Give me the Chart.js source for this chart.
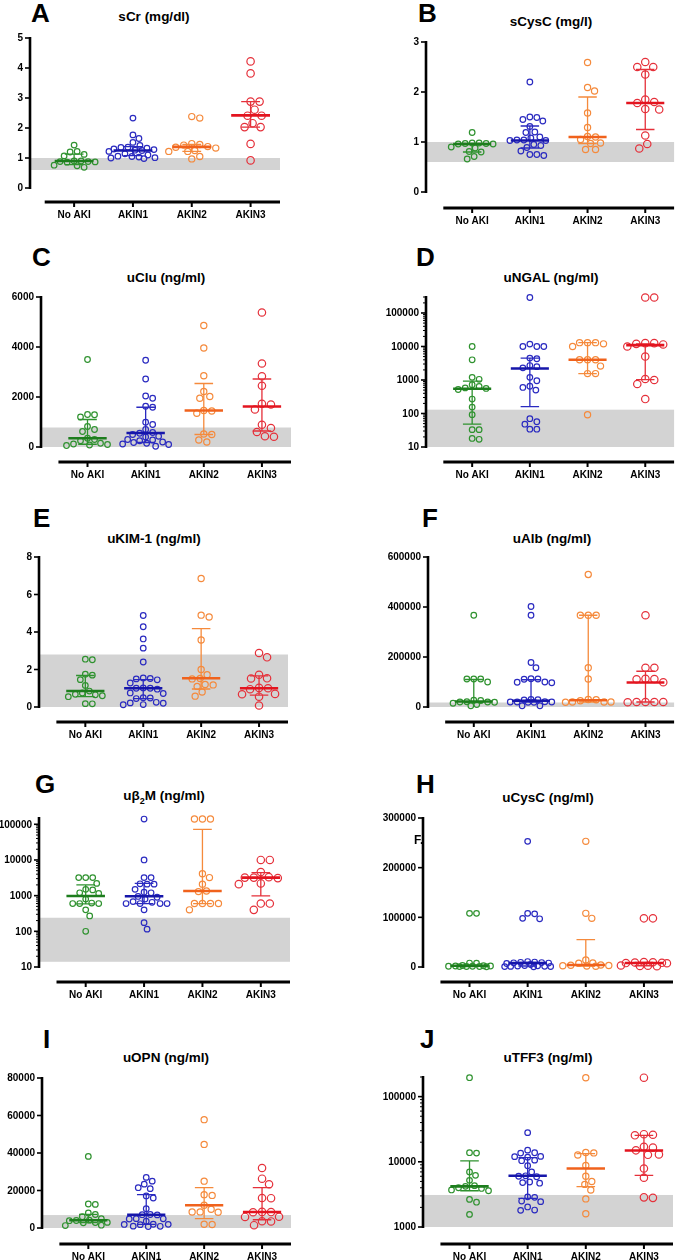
<!DOCTYPE html>
<html><head><meta charset="utf-8">
<script src="https://cdn.jsdelivr.net/npm/chart.js@4.4.1/dist/chart.umd.min.js"></script>
<style>
body{margin:0;background:#fff;width:679px;height:1260px;position:relative;overflow:hidden;font-family:"Liberation Sans",Arial,sans-serif}
.lt{position:absolute;font-weight:bold;font-size:26px;line-height:26px;color:#000}
.tt{position:absolute;font-weight:bold;font-size:13.5px;line-height:13.5px;white-space:nowrap;transform:translateX(-50%);color:#000}
.tt sub{font-size:9px;line-height:0}
canvas{position:absolute}
</style></head><body>
<script>
const groups=['No AKI','AKIN1','AKIN2','AKIN3'];
const groupColors=['#2f922f','#2a2ac0','#f58a3c','#e5303a'];
const medianColors=['#1d7d1d','#1616aa','#f0621c','#e3141f'];
const pointRadii=[2.8,2.8,3.1,3.7];

// A sCr
const sCr=[[1.43,1.22,1.2,1.07,1.12,0.9,0.88,0.88,0.87,0.86,0.9,0.76,0.74,0.69],
 [2.33,1.77,1.65,1.52,1.42,1.36,1.35,1.33,1.3,1.28,1.26,1.25,1.22,1.14,1.1,1.06,1.05,1.03,1.01,1.0,0.98],
 [2.38,2.33,1.48,1.45,1.43,1.38,1.36,1.33,1.25,1.22,1.22,1.05,0.97],
 [4.22,3.82,2.88,2.88,2.61,2.41,2.41,2.16,2.03,2.03,1.47,0.92]];
const sCrMed=[0.9,1.25,1.37,2.42], sCrQ1=[0.78,1.08,1.22,2.03], sCrQ3=[1.13,1.38,1.45,2.88];
const sCrTicks=[0,1,2,3,4,5], sCrBand=[0.6,1.0];
// B sCysC
const sCysC=[[1.19,0.98,0.98,0.97,0.97,0.96,0.96,0.9,0.88,0.81,0.8,0.71,0.66],
 [2.2,1.5,1.49,1.45,1.42,1.31,1.2,1.19,1.1,1.08,1.04,1.04,1.03,1.03,0.95,0.93,0.89,0.82,0.75,0.75,0.73],
 [2.59,2.09,2.02,1.58,1.29,1.11,1.1,1.05,0.98,0.97,0.85,0.85],
 [2.6,2.5,2.5,2.35,1.85,1.8,1.78,1.66,1.65,1.13,0.96,0.87]];
const sCysCMed=[0.96,1.03,1.1,1.78], sCysCQ1=[0.8,0.88,0.97,1.25], sCysCQ3=[0.97,1.32,1.9,2.45];
const sCysCTicks=[0,1,2,3], sCysCBand=[0.6,1.0];
// C uClu
const uClu=[[3500,1300,1290,1200,820,700,620,350,300,250,150,120,100,80,60],
 [3470,2720,2040,1950,1630,1590,990,900,700,580,550,500,430,400,300,280,250,200,180,150,120,100,30],
 [4860,3960,2850,2220,2020,1950,1460,1440,1350,520,500,280,200],
 [5380,3340,2830,2450,1730,1700,1500,890,760,600,430,410]];
const uCluMed=[350,560,1460,1620], uCluQ1=[110,180,500,640], uCluQ3=[1100,1590,2540,2720];
const uCluTicks=[0,2000,4000,6000], uCluBand=[0,780];
// D uNGAL
const uNGAL=[[10000,4000,1200,1050,720,640,580,560,520,270,155,92,33,33,18,17],
 [290000,11800,10000,10000,10000,4500,4300,2700,2500,2300,1200,950,650,600,500,70,57,48,34,34],
 [13000,13000,13000,12000,10000,4000,4000,4000,2600,1550,1550,92],
 [290000,290000,12600,12600,12000,11500,10000,5000,1070,1000,760,270]];
const uNGALMed=[550,2200,4000,11000], uNGALQ1=[48,160,1550,1020], uNGALQ3=[920,4500,13000,12000];
const uNGALTicks=[10,100,1000,10000,100000], uNGALBand=[10,130];
// E uKIM-1
const uKIM1=[[2.55,2.52,1.75,1.7,1.46,1.15,0.85,0.75,0.68,0.65,0.6,0.55,0.18,0.17],
 [4.88,4.28,3.63,3.14,2.4,1.55,1.52,1.5,1.45,1.28,1.02,1.0,1.0,0.95,0.75,0.72,0.5,0.48,0.45,0.25,0.22,0.2,0.13,0.12],
 [6.85,4.9,4.8,3.57,2.0,1.72,1.52,1.5,1.2,1.18,1.1,0.8,0.58],
 [2.88,2.65,1.72,1.53,1.52,1.02,1.0,0.95,0.7,0.68,0.55,0.08]];
const uKIM1Med=[0.85,1.0,1.53,1.0], uKIM1Q1=[0.55,0.45,0.96,0.63], uKIM1Q3=[1.68,1.46,4.18,1.66];
const uKIM1Ticks=[0,2,4,6,8], uKIM1Band=[0,2.8];
// F uAlb
const uAlb=[[367000,112000,112000,112000,100000,27000,26000,21000,20000,20000,19000,15000,10000,5000],
 [402000,367000,178000,157000,113000,112000,111000,100000,99000,97000,30000,29000,28000,21000,20000,20000,20000,19000,19000,5000,5000],
 [530000,367000,367000,367000,157000,112000,30000,29000,25000,20000,20000,20000,19000],
 [367000,157000,157000,113000,112000,111000,99000,20000,20000,20000,20000,19000]];
const uAlbMed=[22000,25000,27000,98000], uAlbQ1=[18000,20000,20000,20000], uAlbQ3=[110000,109000,367000,143000];
const uAlbTicks=[0,200000,400000,600000], uAlbBand=[0,18000];
// G ub2M
const ub2M=[[3200,3200,3200,2200,1500,1450,1200,1150,800,620,600,600,600,400,270,100],
 [140000,10000,3200,3200,2150,2100,2100,1500,1250,1200,950,900,800,680,650,600,600,600,600,400,175,115],
 [140000,140000,140000,4100,3200,2100,1350,1300,600,600,600,600,400],
 [10000,10000,4600,3300,3200,3200,3100,2200,2100,600,600,400]];
const ub2MMed=[980,960,1350,3200], ub2MQ1=[590,600,600,980], ub2MQ3=[2000,2200,72000,4400];
const ub2MTicks=[10,100,1000,10000,100000], ub2MBand=[14,240];
// H uCysC
const uCysC=[[108000,108000,8000,7500,3000,2500,2000,2000,1500,1500,1000,1000,800,500],
 [253000,108000,107000,98000,97000,11000,10000,9500,9000,8500,8000,7000,5000,3000,2500,2000,1500,1200,1000,800,500],
 [253000,108000,98000,14000,8000,7500,4000,3500,3000,2500,2000,1500],
 [98000,98000,10000,9500,9000,8500,8000,7500,3000,2500,2000,1500]];
const uCysCMed=[2500,8000,4000,8000], uCysCQ1=[1000,2000,2000,2500], uCysCQ3=[3500,9500,55000,9500];
const uCysCTicks=[0,100000,200000,300000];
// I uOPN
const uOPN=[[38200,12800,12600,8000,7200,6000,5000,4200,4000,3900,3000,2900,2800,1500,1300],
 [27000,25000,23400,21500,21000,17100,16000,10300,7200,7100,7000,5000,4900,4800,3600,2000,1950,1900,1800,1000,900,800],
 [57800,44600,25000,17800,17400,12100,10000,8600,8500,8400,2000,1900],
 [32000,26300,23300,16000,15900,8600,8500,8400,6000,5900,3600,3500,1500]];
const uOPNMed=[4100,7100,12100,8500], uOPNQ1=[2900,1900,5000,4400], uOPNQ3=[7300,17800,21500,21500];
const uOPNTicks=[0,20000,40000,60000,80000], uOPNBand=[0,6900];
// J uTFF3
const uTFF3=[[195000,13800,13600,7000,6200,5200,4300,4200,4000,3900,3700,3600,2650,2400,1560],
 [28000,15100,13800,13600,12100,12000,11800,10600,10400,8700,7000,6100,6000,5900,4900,4800,4700,2900,2850,2500,2450,2030,1820,1800],
 [195000,13900,13700,12700,8800,6000,5000,4500,3700,2700,1600],
 [195000,26500,26000,25500,17000,16500,15000,13000,12800,7900,5700,2850,2800]];
const uTFF3Med=[4200,6100,7900,14900], uTFF3Q1=[3600,2750,4150,6200], uTFF3Q3=[10300,11600,13400,25500];
const uTFF3Ticks=[1000,10000,100000], uTFF3Band=[1000,3100];

const panels=[
 {letter:'A',lx:31,lb:22,title:'sCr (mg/dl)',tx:154,tb:21.5,vals:sCr,med:sCrMed,q1:sCrQ1,q3:sCrQ3,ticks:sCrTicks,band:sCrBand,log:false,min:0,max:5,box:[0,25,340,210],area:[30,38,280,188],xmin:0.25,gap:14},
 {letter:'B',lx:418,lb:22,title:'sCysC (mg/l)',tx:551,tb:26,vals:sCysC,med:sCysCMed,q1:sCysCQ1,q3:sCysCQ3,ticks:sCysCTicks,band:sCysCBand,log:false,min:0,max:3,box:[340,25,339,210],area:[426,42,675,192],xmin:0.2,gap:16},
 {letter:'C',lx:32,lb:266,title:'uClu (ng/ml)',tx:166,tb:282,vals:uClu,med:uCluMed,q1:uCluQ1,q3:uCluQ3,ticks:uCluTicks,band:uCluBand,log:false,min:0,max:6000,box:[0,285,340,210],area:[41,297,291,447],xmin:0.2,gap:15},
 {letter:'D',lx:416,lb:266,title:'uNGAL (ng/ml)',tx:551,tb:282,vals:uNGAL,med:uNGALMed,q1:uNGALQ1,q3:uNGALQ3,ticks:uNGALTicks,band:uNGALBand,log:true,min:10,max:300000,box:[340,285,339,210],area:[426,297,675,447],xmin:0.2,gap:15},
 {letter:'E',lx:33,lb:527,title:'uKIM-1 (ng/ml)',tx:154,tb:543,vals:uKIM1,med:uKIM1Med,q1:uKIM1Q1,q3:uKIM1Q3,ticks:uKIM1Ticks,band:uKIM1Band,log:false,min:0,max:8,box:[0,545,340,210],area:[39,557,288,707],xmin:0.2,gap:15},
 {letter:'F',lx:422,lb:527,title:'uAlb (ng/ml)',tx:552,tb:543,vals:uAlb,med:uAlbMed,q1:uAlbQ1,q3:uAlbQ3,ticks:uAlbTicks,band:uAlbBand,log:false,min:0,max:600000,box:[340,545,339,210],area:[428,557,677,707],xmin:0.2,gap:15},
 {letter:'G',lx:35,lb:793,title:'uβ<sub>2</sub>M (ng/ml)',tx:164,tb:800,vals:ub2M,med:ub2MMed,q1:ub2MQ1,q3:ub2MQ3,ticks:ub2MTicks,band:ub2MBand,log:true,min:10,max:150000,box:[0,805,340,210],area:[39,818,290,967],xmin:0.2,gap:15},
 {letter:'H',lx:416,lb:793,title:'uCysC (ng/ml)',tx:548,tb:802,vals:uCysC,med:uCysCMed,q1:uCysCQ1,q3:uCysCQ3,ticks:uCysCTicks,band:null,log:false,min:0,max:300000,box:[340,805,339,210],area:[423,818,673,967],xmin:0.2,gap:15},
 {letter:'I',lx:43,lb:1048,title:'uOPN (ng/ml)',tx:166,tb:1062,vals:uOPN,med:uOPNMed,q1:uOPNQ1,q3:uOPNQ3,ticks:uOPNTicks,band:uOPNBand,log:false,min:0,max:80000,box:[0,1065,340,210],area:[42,1078,291,1228],xmin:0.2,gap:16},
 {letter:'J',lx:420,lb:1048,title:'uTFF3 (ng/ml)',tx:548,tb:1062,vals:uTFF3,med:uTFF3Med,q1:uTFF3Q1,q3:uTFF3Q3,ticks:uTFF3Ticks,band:uTFF3Band,log:true,min:1000,max:200000,box:[340,1065,339,210],area:[423,1077,673,1227],xmin:0.2,gap:17}
];

// simple beeswarm: spread points sideways so circles do not overlap
function swarm(vals,p,r){
  const h=p.area[3]-p.area[1];
  const pxX=(p.area[2]-p.area[0])/(4.5-p.xmin);
  const toPx=v=>p.log?(Math.log10(v)-Math.log10(p.min))/(Math.log10(p.max)-Math.log10(p.min))*h:(v-p.min)/(p.max-p.min)*h;
  const order=vals.map((v,i)=>i).sort((a,b)=>vals[b]-vals[a]);
  const placed=[],off=new Array(vals.length);
  const d=2*r+1.3, maxW=Math.round(0.4*pxX);
  for(const i of order){
    const y=toPx(vals[i]);
    let best=0,bestGap=-1;
    for(let k=0;k<=2*maxW;k++){
      const dx=k===0?0:(k%2?(k+1)/2:-k/2);
      let g=Infinity;
      for(const q of placed){g=Math.min(g,Math.hypot(dx-q[0],y-q[1]));}
      if(g>=d){best=dx;bestGap=g;break;}
      if(g>bestGap){bestGap=g;best=dx;}
    }
    placed.push([best,y]);
    off[i]=best/pxX;
  }
  return off;
}

function fmt(t){return String(t);}

function makePlugin(p){
  return {
    id:'panel'+p.letter,
    beforeDatasetsDraw(chart){
      if(!p.band) return;
      const {ctx,chartArea:a,scales:{y}}=chart;
      const top=y.getPixelForValue(p.band[1]), bot=y.getPixelForValue(p.band[0]);
      ctx.save();ctx.fillStyle='#d3d3d3';ctx.fillRect(a.left,top,a.right-a.left,bot-top);ctx.restore();
    },
    afterDatasetsDraw(chart){
      const {ctx,scales:{x,y}}=chart;
      const pxX=x.getPixelForValue(1)-x.getPixelForValue(0);
      ctx.save();
      for(let g=0;g<4;g++){
        const cx=x.getPixelForValue(g+1);
        const y1=y.getPixelForValue(p.q1[g]),y3=y.getPixelForValue(p.q3[g]),ym=y.getPixelForValue(p.med[g]);
        ctx.strokeStyle=groupColors[g];ctx.lineWidth=1.3;
        ctx.beginPath();ctx.moveTo(cx,y1);ctx.lineTo(cx,y3);
        const cw=0.16*pxX;
        ctx.moveTo(cx-cw,y1);ctx.lineTo(cx+cw,y1);ctx.moveTo(cx-cw,y3);ctx.lineTo(cx+cw,y3);ctx.stroke();
        ctx.strokeStyle=medianColors[g];ctx.lineWidth=2.6;
        const mw=0.33*pxX;
        ctx.beginPath();ctx.moveTo(cx-mw,ym);ctx.lineTo(cx+mw,ym);ctx.stroke();
      }
      ctx.restore();
    },
    afterDraw(chart){
      const {ctx,chartArea:a,scales:{x,y}}=chart;
      ctx.save();
      ctx.strokeStyle='#000';ctx.fillStyle='#000';
      // y axis
      ctx.lineWidth=2.6;
      ctx.beginPath();ctx.moveTo(a.left,a.top-1);ctx.lineTo(a.left,a.bottom+1);ctx.stroke();
      ctx.lineWidth=1.6;
      if(p.log){
        ctx.beginPath();
        for(let e=Math.floor(Math.log10(p.min));e<=Math.ceil(Math.log10(p.max));e++){
          for(let m=2;m<10;m++){
            const v=m*Math.pow(10,e);
            if(v<p.min||v>p.max) continue;
            const py=y.getPixelForValue(v);
            ctx.moveTo(a.left-3,py);ctx.lineTo(a.left,py);
          }
        }
        ctx.lineWidth=1;ctx.stroke();ctx.lineWidth=1.6;
      }
      ctx.font='bold 10px "Liberation Sans", Arial, sans-serif';
      ctx.textAlign='right';ctx.textBaseline='middle';
      for(const t of p.ticks){
        const py=y.getPixelForValue(t);
        ctx.beginPath();ctx.moveTo(a.left-5,py);ctx.lineTo(a.left,py);ctx.stroke();
        ctx.fillText(fmt(t),a.left-7,py+0.5);
      }
      // x axis, detached below the plot
      const ay=a.bottom+p.gap;
      ctx.lineWidth=3;
      ctx.beginPath();ctx.moveTo(x.getPixelForValue(0.5),ay);ctx.lineTo(a.right,ay);ctx.stroke();
      ctx.lineWidth=2;ctx.textAlign='center';
      groups.forEach((g,i)=>{
        const px=x.getPixelForValue(i+1);
        ctx.beginPath();ctx.moveTo(px,ay);ctx.lineTo(px,ay+5);ctx.stroke();
        ctx.fillText(g,px,ay+13);
      });
      ctx.restore();
    }
  };
}

panels.forEach(p=>{
  const lt=document.createElement('div');
  lt.className='lt';lt.textContent=p.letter;
  lt.style.left=p.lx+'px';lt.style.top=(p.lb-22)+'px';
  document.body.appendChild(lt);
  const tt=document.createElement('div');
  tt.className='tt';tt.innerHTML=p.title;
  tt.style.left=p.tx+'px';tt.style.top=(p.tb-11.4)+'px';
  document.body.appendChild(tt);

  const cv=document.createElement('canvas');
  cv.width=p.box[2];cv.height=p.box[3];
  cv.style.left=p.box[0]+'px';cv.style.top=p.box[1]+'px';
  document.body.appendChild(cv);

  const datasets=p.vals.map((vals,g)=>{
    const off=swarm(vals,p,pointRadii[g]);
    return {
      label:groups[g],
      data:vals.map((v,j)=>({x:g+1+off[j],y:v})),
      pointStyle:'circle',pointRadius:pointRadii[g],pointBorderWidth:1.2,
      borderColor:groupColors[g],backgroundColor:'rgba(255,255,255,0)',
      pointHoverRadius:pointRadii[g],showLine:false,clip:false
    };
  });

  new Chart(cv.getContext('2d'),{
    type:'scatter',
    data:{datasets},
    options:{
      responsive:false,animation:false,events:[],
      layout:{padding:{left:p.area[0]-p.box[0],top:p.area[1]-p.box[1],right:p.box[0]+p.box[2]-p.area[2],bottom:p.box[1]+p.box[3]-p.area[3]}},
      plugins:{legend:{display:false},tooltip:{enabled:false}},
      scales:{
        x:{type:'linear',min:p.xmin,max:4.5,display:false},
        y:{type:p.log?'logarithmic':'linear',min:p.min,max:p.max,display:false}
      }
    },
    plugins:[makePlugin(p)]
  });
});

// stray mark printed in panel H of the original figure
const fm=document.createElement('div');
fm.className='lt';fm.style.fontSize='12px';fm.style.lineHeight='12px';
fm.textContent='F.';fm.style.left='414px';fm.style.top='834px';
document.body.appendChild(fm);
</script>
</body></html>
